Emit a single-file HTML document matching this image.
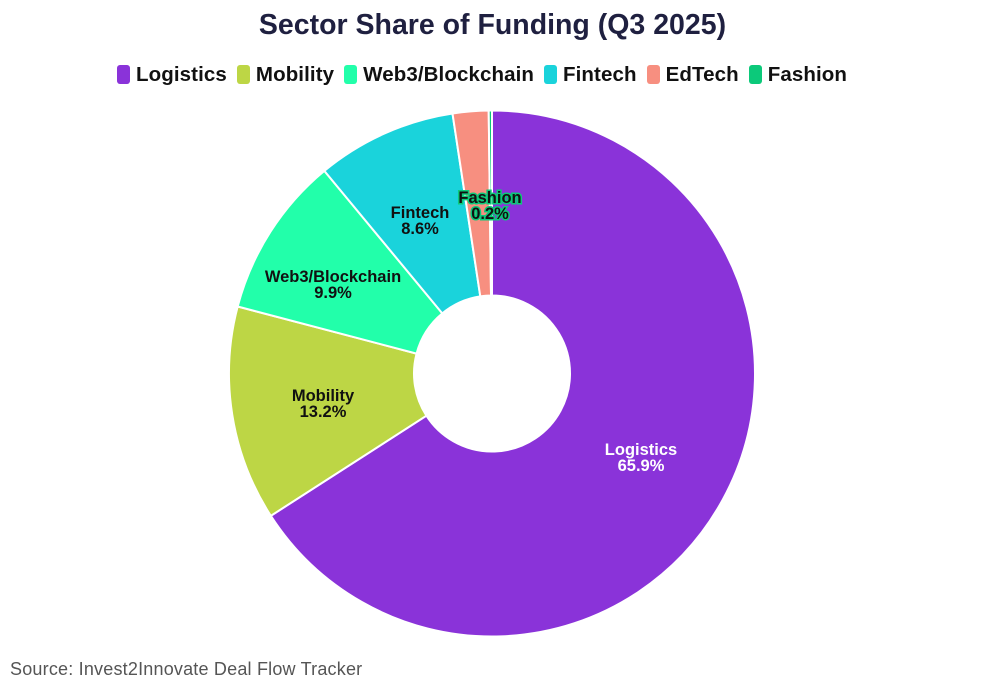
<!DOCTYPE html>
<html><head><meta charset="utf-8"><style>
body{margin:0;width:985px;height:693px;background:#fff;font-family:"Liberation Sans",sans-serif;overflow:hidden;position:relative}
.t{position:absolute;top:9px;left:0;width:985px;text-align:center;font-size:28.5px;font-weight:bold;color:#1f2040}
.lg{position:absolute;top:63px;left:117px;font-size:20.5px;font-weight:bold;color:#111;white-space:nowrap;letter-spacing:0.1px}
.lg span{display:inline-block;margin-right:10px}
.lg i{display:inline-block;width:13px;height:19px;border-radius:3px;vertical-align:-3px;margin-right:6px}
.src{position:absolute;left:10px;top:659px;font-size:18px;color:#555;letter-spacing:0.2px}
</style></head><body>
<div class="t">Sector Share of Funding (Q3 2025)</div>
<div class="lg"><span><i style="background:#8a33d9"></i>Logistics</span><span><i style="background:#bdd645"></i>Mobility</span><span><i style="background:#22ffaa"></i>Web3/Blockchain</span><span><i style="background:#1ad3db"></i>Fintech</span><span><i style="background:#f78f80"></i>EdTech</span><span><i style="background:#0cc97a"></i>Fashion</span></div>
<svg id="s" width="985" height="693" style="position:absolute;left:0;top:0"></svg>
<div class="src">Source: Invest2Innovate Deal Flow Tracker</div>
<script>
var d=[[65.9,"#8a33d9"],[13.2,"#bdd645"],[9.9,"#22ffaa"],[8.6,"#1ad3db"],[2.2,"#f78f80"],[0.2,"#0cc97a"]];
var cx=492,cy=373.5,R=263,r=78,a=0,h="";
function p(rad,ang){return [cx+rad*Math.sin(ang),cy-rad*Math.cos(ang)];}
d.forEach(function(s){var a2=a+s[0]/100*2*Math.PI,l=(a2-a)>Math.PI?1:0;
var A=p(R,a),B=p(R,a2),C=p(r,a2),D=p(r,a);
h+='<path d="M'+A+' A'+R+','+R+' 0 '+l+' 1 '+B+' L'+C+' A'+r+','+r+' 0 '+l+' 0 '+D+'Z" fill="'+s[1]+'" stroke="#fff" stroke-width="2"/>';a=a2;});
var L=[[641,455,"Logistics","65.9%","#fff",""],[323,401,"Mobility","13.2%","#111",""],[333,282,"Web3/Blockchain","9.9%","#111",""],[420,218,"Fintech","8.6%","#111",""],[490,203,"Fashion","0.2%","#111","#0cc97a"]];
L.forEach(function(t){var st=t[5]?' stroke="'+t[5]+'" stroke-width="3" paint-order="stroke"':'';
h+='<text x="'+t[0]+'" y="'+t[1]+'" text-anchor="middle" font-size="16.5" font-weight="bold" fill="'+t[4]+'"'+st+' font-family="Liberation Sans">'+t[2]+'</text>';
h+='<text x="'+t[0]+'" y="'+(t[1]+16)+'" text-anchor="middle" font-size="16.5" font-weight="bold" fill="'+t[4]+'"'+st+' font-family="Liberation Sans">'+t[3]+'</text>';});
document.getElementById("s").innerHTML=h;
</script>
</body></html>
